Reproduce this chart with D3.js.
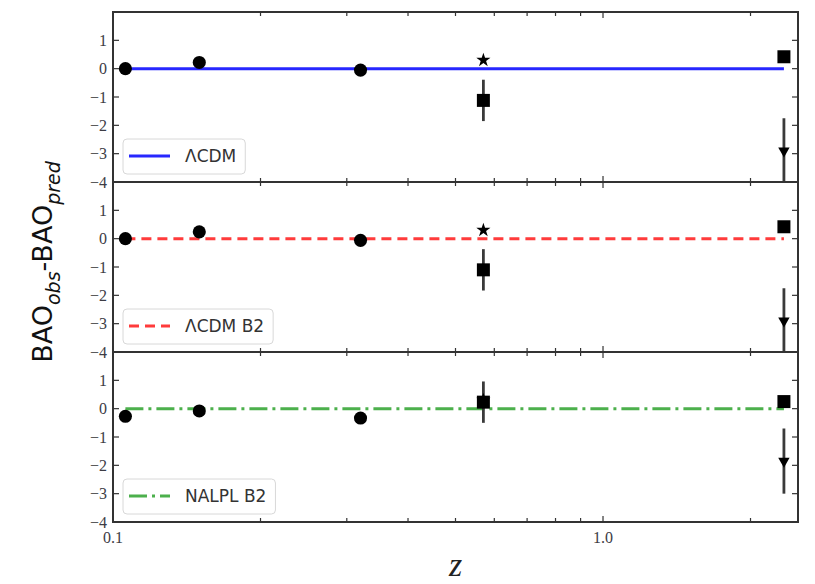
<!DOCTYPE html>
<html>
<head>
<meta charset="utf-8">
<script src="https://cdn.jsdelivr.net/npm/d3@7"></script>
<style>
  html, body { margin: 0; padding: 0; background: #fff; }
  svg { display: block; }
</style>
</head>
<body>
<svg id="chart" width="815" height="584"></svg>
<script>
// BAO residuals (observed minus predicted) for three models, one panel each
const zValues      = [0.106, 0.15, 0.32, 0.57, 0.57, 2.34, 2.34];
const markerTypes  = ["circle", "circle", "circle", "star", "square", "square", "triangle"];
const obsErrors    = [0.12, 0.12, 0.12, 0.1, 0.73, 0.15, 1.15];
const residLCDM    = [0.0, 0.22, -0.05, 0.3, -1.12, 0.42, -2.9];
const residLCDMB2  = [0.0, 0.24, -0.06, 0.3, -1.1, 0.42, -2.9];
const residNALPLB2 = [-0.27, -0.08, -0.33, 0.3, 0.23, 0.25, -1.85];
const modelNames   = ["ΛCDM", "ΛCDM B2", "NALPL B2"];
const modelColors  = ["#2727ff", "#ff3b3b", "#4cb04c"];
const modelDashes  = [null, "10,6", "18,5,3,5"];
const yTicks       = [-4, -3, -2, -1, 0, 1];
const xMajorTicks  = [0.1, 1.0];
const xMinorTicks  = [0.2, 0.3, 0.4, 0.5, 0.6, 0.7, 0.8, 0.9, 2.0];
const xDomain      = [0.1, 2.5];
const yDomain      = [-4, 2];

const residuals = [residLCDM, residLCDMB2, residNALPLB2];

const svg = d3.select("#chart");
const left = 113, right = 798, top0 = 12, panelH = 170;
const frameColor = "#333";
const tickFont = "'Liberation Serif', 'DejaVu Serif', serif";

const x = d3.scaleLog().domain(xDomain).range([left, right]);

residuals.forEach((res, p) => {
  const y0 = top0 + p * panelH;
  const y = d3.scaleLinear().domain(yDomain).range([y0 + panelH, y0]);
  const g = svg.append("g");

  const clipId = "clip" + p;
  svg.append("clipPath").attr("id", clipId)
    .append("rect").attr("x", left).attr("y", y0).attr("width", right - left).attr("height", panelH);

  const plot = g.append("g").attr("clip-path", `url(#${clipId})`);

  // model line at zero residual, spanning the data range
  plot.append("line")
    .attr("x1", x(d3.min(zValues))).attr("x2", x(d3.max(zValues)))
    .attr("y1", y(0)).attr("y2", y(0))
    .attr("stroke", modelColors[p])
    .attr("stroke-width", 3)
    .attr("stroke-dasharray", modelDashes[p]);

  // error bars
  plot.selectAll("line.err").data(res).enter().append("line")
    .attr("class", "err")
    .attr("x1", (d, i) => x(zValues[i])).attr("x2", (d, i) => x(zValues[i]))
    .attr("y1", (d, i) => y(d + obsErrors[i])).attr("y2", (d, i) => y(d - obsErrors[i]))
    .attr("stroke", "#3a3a3a").attr("stroke-width", 2.8);

  // markers
  const symbolFor = {
    circle: d3.symbol(d3.symbolCircle, 135),
    square: d3.symbol(d3.symbolSquare, 169),
    star: d3.symbol(d3.symbolStar, 62),
    triangle: d3.symbol(d3.symbolTriangle, 56)
  };
  plot.selectAll("path.mk").data(res).enter().append("path")
    .attr("class", "mk")
    .attr("d", (d, i) => symbolFor[markerTypes[i]]())
    .attr("transform", (d, i) => `translate(${x(zValues[i])},${y(d)})` + (markerTypes[i] === "triangle" ? " rotate(180)" : ""))
    .attr("fill", "#000");

  // frame
  g.append("rect")
    .attr("x", left).attr("y", y0).attr("width", right - left).attr("height", panelH)
    .attr("fill", "none").attr("stroke", frameColor).attr("stroke-width", 2);

  // y ticks, inward on both sides
  yTicks.forEach(t => {
    g.append("line").attr("x1", left).attr("x2", left + 6).attr("y1", y(t)).attr("y2", y(t))
      .attr("stroke", frameColor).attr("stroke-width", 1.2);
    g.append("line").attr("x1", right).attr("x2", right - 6).attr("y1", y(t)).attr("y2", y(t))
      .attr("stroke", frameColor).attr("stroke-width", 1.2);
    g.append("text")
      .attr("x", left - 6).attr("y", y(t)).attr("dy", "0.35em")
      .attr("text-anchor", "end")
      .attr("font-family", tickFont).attr("font-size", 16).attr("fill", "#3c3c44")
      .text(t < 0 ? "\u2212" + Math.abs(t) : String(t));
  });

  // x ticks, inward on top and bottom of each panel
  const xt = xMajorTicks.map(v => ({ v, len: 6 })).concat(xMinorTicks.map(v => ({ v, len: 4 })));
  xt.forEach(t => {
    g.append("line").attr("x1", x(t.v)).attr("x2", x(t.v)).attr("y1", y0).attr("y2", y0 + t.len)
      .attr("stroke", frameColor).attr("stroke-width", 1.2);
    g.append("line").attr("x1", x(t.v)).attr("x2", x(t.v)).attr("y1", y0 + panelH).attr("y2", y0 + panelH - t.len)
      .attr("stroke", frameColor).attr("stroke-width", 1.2);
  });

  // legend
  const lg = g.append("g").attr("transform", `translate(123,${y0 + panelH - 43})`);
  const box = lg.append("rect").attr("x", 0).attr("y", 0).attr("height", 35)
    .attr("rx", 4).attr("fill", "#fff").attr("fill-opacity", 0.85)
    .attr("stroke", "#d8d8d8").attr("stroke-width", 1);
  lg.append("line").attr("x1", 6).attr("x2", 47).attr("y1", 17).attr("y2", 17)
    .attr("stroke", modelColors[p]).attr("stroke-width", 3)
    .attr("stroke-dasharray", modelDashes[p]);
  const lt = lg.append("text").attr("x", 62).attr("y", 17).attr("dy", "0.36em")
    .attr("font-family", "'DejaVu Sans', sans-serif").attr("font-size", 17).attr("fill", "#333")
    .text(modelNames[p]);
  const w = lt.node().getComputedTextLength();
  box.attr("width", 62 + w + 9);
});

// x tick labels on the bottom panel only
const bottomY = top0 + 3 * panelH;
xMajorTicks.forEach(v => {
  svg.append("text")
    .attr("x", x(v)).attr("y", bottomY + 21)
    .attr("text-anchor", "middle")
    .attr("font-family", tickFont).attr("font-size", 16).attr("fill", "#3c3c44")
    .text(d3.format(".1f")(v));
});

// axis titles
svg.append("text")
  .attr("x", (left + right) / 2).attr("y", 576)
  .attr("text-anchor", "middle")
  .attr("font-family", tickFont).attr("font-style", "italic").attr("font-size", 34).attr("fill", "#222")
  .text("z");

const yl = svg.append("text")
  .attr("transform", `translate(52,262) rotate(-90)`)
  .attr("text-anchor", "middle")
  .attr("font-family", "'DejaVu Sans', sans-serif").attr("font-size", 27).attr("fill", "#111");
yl.append("tspan").text("BAO");
yl.append("tspan").attr("dy", 8).attr("font-size", 19).attr("font-style", "italic").text("obs");
yl.append("tspan").attr("dy", -8).text("-BAO");
yl.append("tspan").attr("dy", 8).attr("font-size", 19).attr("font-style", "italic").text("pred");
</script>
</body>
</html>
